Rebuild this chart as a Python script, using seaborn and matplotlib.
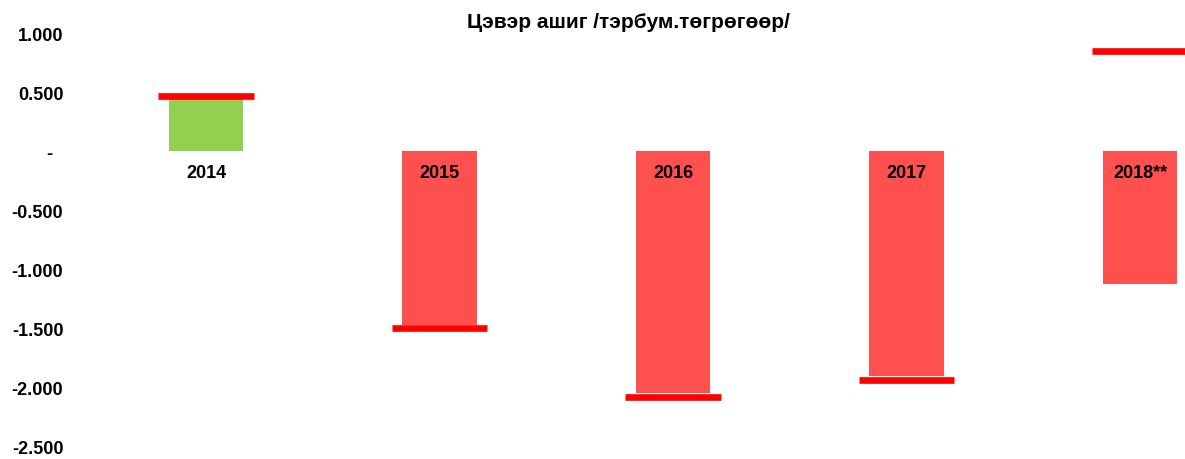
import numpy as np
import pandas as pd
import matplotlib
matplotlib.use('Agg')
import matplotlib.pyplot as plt
import seaborn as sns

# data
years = ['2014', '2015', '2016', '2017', '2018**']
net_profit = [0.45, -1.47, -2.04, -1.90, -1.12]
markers = [0.47, -1.495, -2.08, -1.93, 0.845]
bar_colors = ['#92D050', '#FF5050', '#FF5050', '#FF5050', '#FF5050']
y_ticks = [1.0, 0.5, 0.0, -0.5, -1.0, -1.5, -2.0, -2.5]

df = pd.DataFrame({'year': years, 'profit': net_profit, 'marker': markers})

sns.set_style('white')
plt.rcParams['font.family'] = ['Liberation Sans', 'DejaVu Sans']
plt.rcParams['text.color'] = 'black'
plt.rcParams['ytick.color'] = 'black'

fig = plt.figure(figsize=(11.85, 4.6), dpi=100)
ax = fig.add_axes([80 / 1185, 12 / 460, 1105 / 1185, 414 / 460])

sns.barplot(data=df, x='year', y='profit', hue='year', palette=bar_colors,
            legend=False, width=0.317, saturation=1, linewidth=0,
            edgecolor='none', ax=ax)

# red marker lines
pos = np.arange(len(years))
ax.hlines(df['marker'], pos - 0.2035, pos + 0.2035, colors='#FF0000', linewidth=4.8)

# category labels just under the zero line
for i, y in enumerate(years):
    ax.text(i, -0.18, y, ha='center', va='center', fontsize=13,
            fontweight='bold', color='black')

ax.set_xlim(-0.5396, 4.1927)
ax.set_ylim(-2.5, 1.0)
ax.set_yticks(y_ticks)
ax.set_yticklabels(['-  ' if v == 0 else f'{v:.3f}' for v in y_ticks],
                   fontsize=13, fontweight='bold', color='black')
ax.set_xticks([])
ax.set_xlabel('')
ax.set_ylabel('')
ax.tick_params(axis='y', length=0, pad=12)
sns.despine(left=True, bottom=True)

fig.text(628 / 1185, 1 - 22 / 460, 'Цэвэр ашиг /тэрбум.төгрөгөөр/',
         ha='center', va='center', fontsize=15, fontweight='bold', color='black')

fig.savefig('out.png', dpi=100)
